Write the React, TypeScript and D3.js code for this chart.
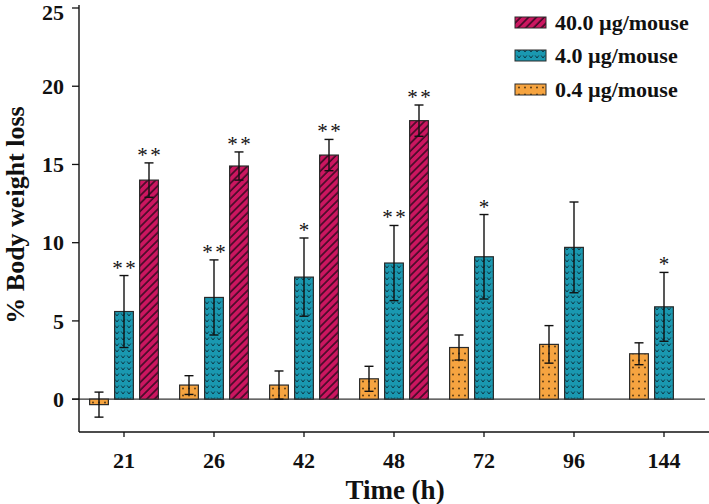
import React from "react";
import * as d3 from "d3";

const categories = ["21", "26", "42", "48", "72", "96", "144"];
const seriesNames = ["0.4 µg/mouse", "4.0 µg/mouse", "40.0 µg/mouse"];
const low = [-0.35, 0.9, 0.9, 1.3, 3.3, 3.5, 2.9];
const lowErr = [0.8, 0.6, 0.9, 0.8, 0.8, 1.2, 0.7];
const mid = [5.6, 6.5, 7.8, 8.7, 9.1, 9.7, 5.9];
const midErr = [2.3, 2.4, 2.5, 2.4, 2.7, 2.9, 2.2];
const high: (number | null)[] = [14.0, 14.9, 15.6, 17.8, null, null, null];
const highErr: (number | null)[] = [1.1, 0.9, 1.0, 1.0, null, null, null];
const midStars = ["**", "**", "*", "**", "*", "", "*"];
const highStars = ["**", "**", "**", "**", "", "", ""];
const yTicks = [0, 5, 10, 15, 20, 25];

const fills = ["url(#pDots)", "url(#pVs)", "url(#pHatch)"];
const FONT = "'Liberation Serif', 'Times New Roman', serif";

export default function App() {
  const W = 709, H = 504;
  const y = d3.scaleLinear().domain([-2.1, 25]).range([432, 8]);
  const x = d3.scaleBand<string>().domain(categories).range([79, 709]).padding(0);
  const inner = d3.scaleBand<number>().domain([0, 1, 2]).range([7.5, 82.5]).paddingInner(0.25).paddingOuter(0.125);
  const values = [low, mid, high];
  const errs = [lowErr, midErr, highErr];
  const stars = [null, midStars, highStars];

  const bars: JSX.Element[] = [];
  const errEls: JSX.Element[] = [];
  const starEls: JSX.Element[] = [];
  categories.forEach((c, i) => {
    values.forEach((arr, s) => {
      const v = arr[i];
      if (v === null || v === undefined) return;
      const bx = (x(c) as number) + (inner(s) as number);
      const bw = inner.bandwidth();
      const y0 = y(0), y1 = y(v);
      bars.push(
        <g key={`b${i}-${s}`}>
          <rect x={bx} y={Math.min(y0, y1)} width={bw} height={Math.abs(y1 - y0)} fill={fills[s]} stroke="#2a2a2a" strokeWidth={1.2} />
        </g>
      );
      const e = errs[s][i] as number;
      const cx = bx + bw / 2;
      const yt = y(v + e), yb = y(v - e);
      errEls.push(
        <g key={`e${i}-${s}`} stroke="#111" strokeWidth={1.4}>
          <line x1={cx} x2={cx} y1={yt} y2={yb} />
          <line x1={cx - 4.5} x2={cx + 4.5} y1={yt} y2={yt} />
          <line x1={cx - 4.5} x2={cx + 4.5} y1={yb} y2={yb} />
        </g>
      );
      const st = stars[s] ? (stars[s] as string[])[i] : "";
      if (st) {
        const n = st.length;
        for (let k = 0; k < n; k++) {
          const off = n === 2 ? (k === 0 ? -6.5 : 6.5) : 0;
          starEls.push(
            <text key={`s${i}-${s}-${k}`} x={cx + off} y={yt - 1} textAnchor="middle" fontFamily={FONT} fontSize={21} fill="#111">*</text>
          );
        }
      }
    });
  });

  const legendOrder = [2, 1, 0];
  const legendY = [17, 50, 84];

  return (
    <svg width={W} height={H} style={{ position: "absolute", left: 0, top: 0, background: "#fff" }}>
      <defs>
        <pattern id="pHatch" patternUnits="userSpaceOnUse" width={5.5} height={5.5} patternTransform="rotate(45)">
          <rect width={5.5} height={5.5} fill="#cc1660" />
          <line x1={1} x2={1} y1={0} y2={5.5} stroke="#3d0a24" strokeWidth={1.6} />
        </pattern>
        <pattern id="pVs" patternUnits="userSpaceOnUse" width={6} height={6}>
          <rect width={6} height={6} fill="#1a98b0" />
          <path d="M1.2,1.5 L3,4 L4.8,1.5" fill="none" stroke="#0d3a48" strokeWidth={1} />
        </pattern>
        <pattern id="pDots" patternUnits="userSpaceOnUse" width={6} height={7}>
          <rect width={6} height={7} fill="#f6a440" />
          <circle cx={3} cy={3.5} r={0.9} fill="#4a3010" />
        </pattern>
      </defs>

      {/* zero line */}
      <line x1={72} x2={705} y1={y(0)} y2={y(0)} stroke="#333" strokeWidth={1.3} />
      {bars}
      {errEls}
      {starEls}

      {/* y axis */}
      <line x1={79} x2={79} y1={5} y2={432} stroke="#111" strokeWidth={1.4} />
      {yTicks.map((t) => (
        <g key={`yt${t}`}>
          <line x1={72} x2={79} y1={y(t)} y2={y(t)} stroke="#111" strokeWidth={1.3} />
          <text x={64} y={Math.max(y(t), 12)} dy="0.35em" textAnchor="end" fontFamily={FONT} fontWeight="bold" fontSize={22} fill="#111">{t}</text>
        </g>
      ))}
      {/* x axis */}
      <line x1={79} x2={709} y1={432} y2={432} stroke="#111" strokeWidth={1.4} />
      {categories.map((c) => {
        const cx = (x(c) as number) + x.bandwidth() / 2;
        return (
          <g key={`xt${c}`}>
            <line x1={cx} x2={cx} y1={432} y2={437} stroke="#111" strokeWidth={1.3} />
            <text x={cx} y={468} textAnchor="middle" fontFamily={FONT} fontWeight="bold" fontSize={22} fill="#111">{c}</text>
          </g>
        );
      })}
      <text x={395} y={499} textAnchor="middle" fontFamily={FONT} fontWeight="bold" fontSize={27} fill="#111">Time (h)</text>
      <text transform={`translate(24,215) rotate(-90)`} textAnchor="middle" fontFamily={FONT} fontWeight="bold" fontSize={26} fill="#111">% Body weight loss</text>

      {legendOrder.map((s, k) => (
        <g key={`lg${s}`}>
          <rect x={515} y={legendY[k]} width={31} height={11} fill={fills[s]} stroke="#2a2a2a" strokeWidth={1} />
          <text x={555} y={legendY[k] + 5.5} dy="0.35em" fontFamily={FONT} fontWeight="bold" fontSize={22} fill="#111">{seriesNames[s]}</text>
        </g>
      ))}
    </svg>
  );
}
